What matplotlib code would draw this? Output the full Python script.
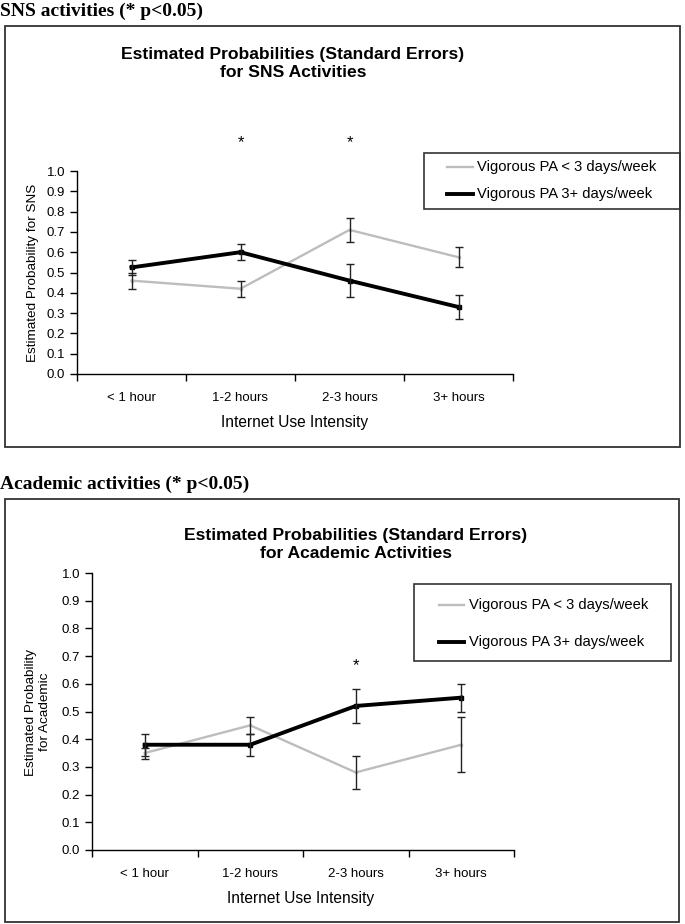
import numpy as np
import matplotlib.pyplot as plt
from matplotlib.patches import Rectangle
from matplotlib.lines import Line2D

plt.rcParams["font.family"] = ["Liberation Sans", "DejaVu Sans"]

W, H = 685, 924

# data
categories = ["< 1 hour", "1-2 hours", "2-3 hours", "3+ hours"]
yticks = [0.0, 0.1, 0.2, 0.3, 0.4, 0.5, 0.6, 0.7, 0.8, 0.9, 1.0]
series_labels = ["Vigorous PA < 3 days/week", "Vigorous PA 3+ days/week"]

sns_low = [0.46, 0.42, 0.71, 0.575]
sns_low_se = [0.04, 0.04, 0.06, 0.05]
sns_high = [0.525, 0.60, 0.46, 0.33]
sns_high_se = [0.035, 0.04, 0.08, 0.06]
sns_sig = [1, 2]

acad_low = [0.35, 0.45, 0.28, 0.38]
acad_low_se = [0.02, 0.03, 0.06, 0.10]
acad_high = [0.38, 0.38, 0.52, 0.55]
acad_high_se = [0.04, 0.04, 0.06, 0.05]
acad_sig = [2]

GRAY = "#bdbdbd"
styles = [dict(color=GRAY, lw=1.7, ms=2), dict(color="black", lw=2.8, ms=3.5)]


def fx(x):
    return x / W


def fy(y):
    return 1 - y / H


def panel(fig, ax_px, box_px, header, header_y, title, title_xy, ylabel, ylabel_xy,
          xlabel_xy, series, sig, star_y, leg_px, leg_rows, leg_handle_x, leg_text_x):
    # outer frame + header
    x0, y0, x1, y1 = box_px
    fig.add_artist(Rectangle((fx(x0), fy(y1)), (x1 - x0) / W, (y1 - y0) / H,
                             transform=fig.transFigure, fill=False, lw=1.3, ec="#333333"))
    fig.text(0.0, fy(header_y), header, family="Liberation Serif", weight="bold",
             size=14, ha="left", va="center")

    left, right, top, bottom = ax_px
    ax = fig.add_axes([fx(left), fy(bottom), (right - left) / W, (bottom - top) / H])
    x = np.arange(len(categories))
    for (vals, err), st in zip(series, styles):
        ax.plot(x, vals, color=st["color"], lw=st["lw"], marker="s", ms=st["ms"], zorder=2)
        ax.errorbar(x, vals, yerr=err, fmt="none", ecolor="#222222", elinewidth=1.0,
                    capsize=2.7, capthick=1.0, zorder=3)
    for i in sig:
        ax.text(x[i], star_y, "*", ha="center", va="center", size=12, clip_on=False)

    ax.set_xlim(-0.5, len(categories) - 0.5)
    ax.set_ylim(0, 1)
    ax.set_yticks(yticks)
    ax.set_yticklabels([f"{v:.1f}" for v in yticks])
    ax.set_xticks(np.arange(len(categories) + 1) - 0.5)
    ax.set_xticklabels([])
    ax.set_xticks(x, minor=True)
    ax.set_xticklabels(categories, minor=True)
    ax.tick_params(axis="x", which="major", direction="out", length=5, width=1)
    ax.tick_params(axis="x", which="minor", length=0, pad=13, labelsize=9.5)
    ax.tick_params(axis="y", direction="out", length=5, width=1, pad=3.5, labelsize=9.5)
    for s in ["top", "right"]:
        ax.spines[s].set_visible(False)
    for s in ["left", "bottom"]:
        ax.spines[s].set_linewidth(1.0)
    ax.patch.set_alpha(0)

    fig.text(fx(title_xy[0]), fy(title_xy[1]), title, weight="bold", size=12.6,
             ha="center", va="center", linespacing=1.3)
    fig.text(fx(ylabel_xy[0]), fy(ylabel_xy[1]), ylabel, rotation=90, size=9.7,
             ha="center", va="center", linespacing=1.15)
    fig.text(fx(xlabel_xy[0]), fy(xlabel_xy[1]), "Internet Use Intensity", size=11.2,
             ha="center", va="center")

    # legend box
    lx0, ly0, lx1, ly1 = leg_px
    fig.add_artist(Rectangle((fx(lx0), fy(ly1)), (lx1 - lx0) / W, (ly1 - ly0) / H,
                             transform=fig.transFigure, fill=False, lw=1.2, ec="#333333"))
    for row_y, lab, st in zip(leg_rows, series_labels, styles):
        fig.add_artist(Line2D([fx(leg_handle_x[0]), fx(leg_handle_x[1])], [fy(row_y)] * 2,
                              transform=fig.transFigure, color=st["color"], lw=st["lw"]))
        fig.text(fx(leg_text_x), fy(row_y), lab, size=10.6, ha="left", va="center")
    return ax


fig = plt.figure(figsize=(W / 100, H / 100), dpi=100)

panel(fig, (77, 513, 171, 374), (5, 26, 680, 447), "SNS activities (* p<0.05)", 11,
      "Estimated Probabilities (Standard Errors)\nfor SNS Activities", (293, 63.5),
      "Estimated Probability for SNS", (33, 273), (295, 422),
      [(sns_low, sns_low_se), (sns_high, sns_high_se)], sns_sig, 1.14,
      (424, 153, 680, 209), (167, 194), (447, 473), 477)

panel(fig, (92, 514, 573, 850), (5, 499, 679, 922), "Academic activities (* p<0.05)", 484,
      "Estimated Probabilities (Standard Errors)\nfor Academic Activities", (356, 544.5),
      "Estimated Probability\nfor Academic", (38, 712), (301, 898),
      [(acad_low, acad_low_se), (acad_high, acad_high_se)], acad_sig, 0.665,
      (414, 584, 671, 661), (605, 642), (439, 464), 469)

fig.savefig("out.png", dpi=100)
